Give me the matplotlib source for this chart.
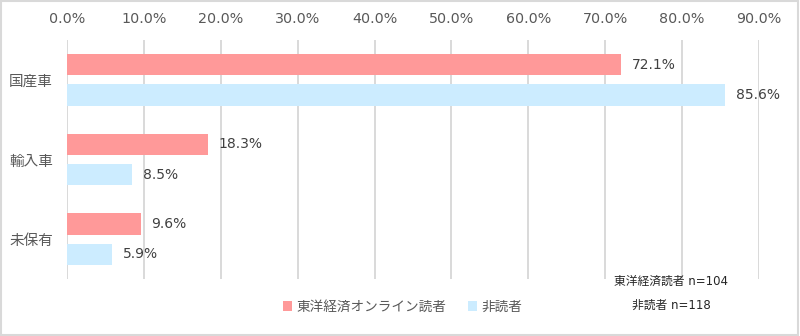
import matplotlib.pyplot as plt
from matplotlib.patches import Rectangle

plt.rcParams['font.family'] = ['DejaVu Sans', 'Noto Sans CJK JP']

categories = ['国産車', '輸入車', '未保有']
readers = [72.1, 18.3, 9.6]
non_readers = [85.6, 8.5, 5.9]
series_names = ['東洋経済オンライン読者', '非読者']
ticks = [0, 10, 20, 30, 40, 50, 60, 70, 80, 90]
notes = ['東洋経済読者 n=104', '非読者 n=118']

red = '#FF9999'
blue = '#CCECFF'
grid = '#D9D9D9'
txt = '#595959'

fig = plt.figure(figsize=(8, 3.36), dpi=100)
ax = fig.add_axes([67/800, 1 - 279/336, (759 - 67)/800, (279 - 40)/336])

pos = list(range(len(categories)))
off = 0.19
h = 0.265
b1 = ax.barh([p - off for p in pos], readers, height=h, color=red, label=series_names[0], zorder=3)
b2 = ax.barh([p + off for p in pos], non_readers, height=h, color=blue, label=series_names[1], zorder=3)

# value labels next to the bar ends
for bars, vals in ((b1, readers), (b2, non_readers)):
    for r, v in zip(bars, vals):
        ax.text(v + 1.4, r.get_y() + r.get_height() / 2, f'{v:.1f}%',
                va='center', ha='left', fontsize=10, color='#404040')

ax.set_xlim(0, 90)
ax.set_ylim(2.5, -0.5)
ax.set_xticks(ticks)
ax.set_xticklabels([f'{t:.1f}%' for t in ticks])
ax.xaxis.tick_top()
ax.tick_params(axis='x', length=0, pad=10, labelsize=10.3, labelcolor=txt)
ax.set_yticks(pos)
ax.set_yticklabels(categories)
ax.tick_params(axis='y', length=0, pad=10, labelsize=10.5, labelcolor=txt)
ax.grid(axis='x', color=grid, linewidth=1.4, zorder=0)
for s in ax.spines.values():
    s.set_visible(False)

fig.legend(handles=[b1, b2], loc='center', bbox_to_anchor=(0.503, 1 - 307/336), ncol=2,
           frameon=False, fontsize=9.8, handlelength=0.7, handleheight=0.7,
           handletextpad=0.3, columnspacing=1.6, labelcolor=txt)

fig.text(671/800, 1 - 281/336, notes[0], ha='center', va='center', fontsize=8.5, color='#262626')
fig.text(671/800, 1 - 305/336, notes[1], ha='center', va='center', fontsize=8.5, color='#262626')

fig.patches.append(Rectangle((0.001, 0.002), 0.997, 0.995, transform=fig.transFigure,
                             fill=False, edgecolor='#D9D9D9', linewidth=1.5))

fig.savefig('out.png', dpi=100)
